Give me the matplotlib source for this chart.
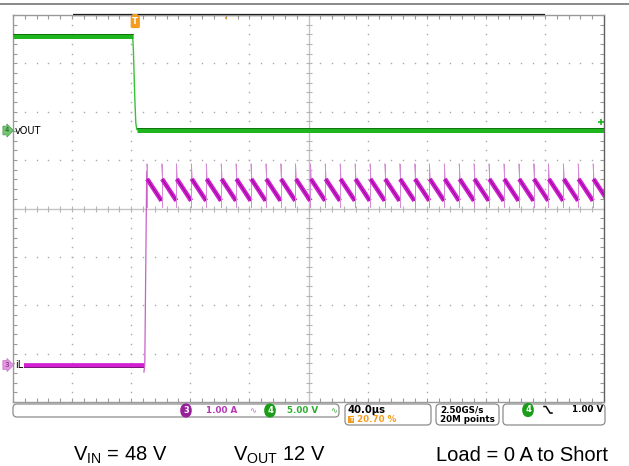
import numpy as np
import matplotlib
matplotlib.use("Agg")
import matplotlib.pyplot as plt
from matplotlib.patches import FancyBboxPatch
from matplotlib.lines import Line2D
from matplotlib import transforms

# channel settings (scope)
time_per_div = 40.0      # us/div
ch4_scale = 5.0          # V/div  (vOUT)
ch4_pos = 1.61           # div above centre
ch3_scale = 1.0          # A/div  (iL)
ch3_pos = -3.23          # div above centre
trig_pct = 20.70

# vOUT trace (us, V)
vout_t = [0.0, 81.0, 81.5, 82.4, 83.1, 83.8, 400.0]
vout_v = [9.76, 9.76, 8.2, 3.5, 0.8, 0.1, 0.1]

# iL before the short (us, A)
il_flat_t = [6.5, 88.6]
il_flat_i = [0.0, 0.0]
il_rise_t = [88.6, 89.2, 90.5]
il_rise_i = [-0.15, 0.0, 4.0]

# hiccup / current-limit sawtooth after the short
tooth_start = [90.5, 100.6, 110.6, 120.7, 130.8, 140.9, 150.9, 161.0, 171.1, 181.1,
               191.2, 201.3, 211.3, 221.4, 231.5, 241.6, 251.6, 261.7, 271.8, 281.8,
               291.9, 302.0, 312.0, 322.1, 332.2, 342.3, 352.3, 362.4, 372.5, 382.5,
               392.6]
tooth_top = 3.84
tooth_bottom = 3.39
spike_hi = 4.15
spike_lo = 3.26
tooth_period = 10.07

W, H = 629, 466
fig = plt.figure(figsize=(W / 100, H / 100), dpi=100)
rect = [13 / W, (H - 402) / H, 591 / W, 387 / H]

# graticule
gax = fig.add_axes(rect)
gax.set_xlim(0, 10)
gax.set_ylim(-4, 4)
gax.set_facecolor("white")
minor_x = np.arange(0, 10.001, 0.2)
minor_y = np.arange(-4, 4.001, 0.2)
gax.set_xticks(minor_x)
gax.set_yticks(minor_y)
gax.tick_params(direction="in", length=3, width=0.8, color="#9a9a9a",
                top=True, right=True, labelbottom=False, labelleft=False)
for s in gax.spines.values():
    s.set_color("#9a9a9a")
    s.set_linewidth(1.0)
gax.spines["right"].set_color("#606060")

dot_x, dot_y = [], []
for gx in range(1, 10):
    if gx == 5:
        continue
    dot_x += [gx] * len(minor_y)
    dot_y += list(minor_y)
for gy in range(-3, 4):
    if gy == 0:
        continue
    dot_x += list(minor_x)
    dot_y += [gy] * len(minor_x)
gax.plot(dot_x, dot_y, ls="none", marker="s", ms=1.0, mew=0, color="#a8a8a8")

gax.axhline(0, color="#c4c4c4", lw=1.0)
gax.axvline(5, color="#c4c4c4", lw=1.0)
gax.plot(minor_x, np.zeros_like(minor_x), ls="none", marker="|", ms=4, mew=0.8, color="#b4b4b4")
gax.plot(np.full_like(minor_y, 5), minor_y, ls="none", marker="_", ms=4, mew=0.8, color="#b4b4b4")

# black record bar on top edge
gax.plot([1.02, 9.0], [4, 4], color="black", lw=1.6, clip_on=False, solid_capstyle="butt")
gax.plot([3.6], [3.93], marker="s", ms=1.5, color="#f0a030", mew=0)

# traces
vax = fig.add_axes(rect)
vax.patch.set_alpha(0)
vax.axis("off")
vax.set_xlim(0, 10 * time_per_div)
vax.set_ylim((-4 - ch4_pos) * ch4_scale, (4 - ch4_pos) * ch4_scale)

up = transforms.offset_copy(vax.transData, fig=fig, y=2, units="dots")
vax.plot(vout_t, vout_v, color="#38c238", lw=1.0)
vax.plot(vout_t[:2], vout_v[:2], color="#1fb51f", lw=3.6, solid_capstyle="butt")
vax.plot(vout_t[-2:], vout_v[-2:], color="#1fb51f", lw=3.6, solid_capstyle="butt")
vax.plot(vout_t[:2], vout_v[:2], color="#0d6a0d", lw=0.6, transform=up)
vax.plot(vout_t[-2:], vout_v[-2:], color="#0d6a0d", lw=0.6, transform=up)
vax.plot([398.0], [0.9], marker="+", ms=4, mew=1.2, color="#1fb51f")

iax = vax.twinx()
iax.patch.set_alpha(0)
iax.axis("off")
iax.set_xlim(0, 10 * time_per_div)
iax.set_ylim((-4 - ch3_pos) * ch3_scale, (4 - ch3_pos) * ch3_scale)

down = transforms.offset_copy(iax.transData, fig=fig, y=-2, units="dots")
iax.plot(il_flat_t, il_flat_i, color="#d21fd2", lw=3.4, solid_capstyle="butt")
iax.plot(il_flat_t, il_flat_i, color="#6a106a", lw=0.6, transform=down)
iax.plot(il_rise_t, il_rise_i, color="#c860c8", lw=0.9)

for t0 in tooth_start:
    iax.plot([t0, t0], [spike_lo, spike_hi], color="#d48ad4", lw=0.7)
    iax.plot([t0, t0 + 0.6], [spike_hi, tooth_top], color="#d48ad4", lw=0.7)
    seg_t = [t0 + 0.3, t0 + tooth_period - 0.1]
    seg_i = [tooth_top, tooth_bottom]
    iax.plot(seg_t, seg_i, color="#d41cd4", lw=3.3, solid_capstyle="butt")
    iax.plot(seg_t, seg_i, color="#6e0e6e", lw=0.5)

# overlay in pixel coordinates for labels / status bar / caption
dax = fig.add_axes([0, 0, 1, 1])
dax.set_xlim(0, W)
dax.set_ylim(H, 0)
dax.axis("off")
dax.set_zorder(10)

# trigger marker
dax.plot([135.3], [16.5], marker="v", ms=4, color="#f39c1e", mew=0)
dax.text(135.3, 22, "T", color="white", fontsize=6, fontweight="bold",
         ha="center", va="center",
         bbox=dict(boxstyle="round,pad=0.2", fc="#f39c1e", ec="none"))

# channel labels on the left
dax.text(6.5, 130.5, "4", fontsize=5, color="#1a5a1a", ha="center", va="center",
         bbox=dict(boxstyle="rarrow,pad=0.2", fc="#74c474", ec="#4a9a4a", lw=0.5))
dax.text(15, 131, "vOUT", fontsize=7, color="black", ha="left", va="center")
dax.text(6.5, 365, "3", fontsize=5, color="#6a206a", ha="center", va="center",
         bbox=dict(boxstyle="rarrow,pad=0.2", fc="#e496e4", ec="#c070c0", lw=0.5))
dax.text(15, 365.5, "iL", fontsize=7, color="black", ha="left", va="center",
         bbox=dict(boxstyle="square,pad=0.05", fc="white", ec="none"))

# top frame line of the screen
fig.add_artist(Line2D([0, 1], [1 - 4 / H, 1 - 4 / H], color="#8a8a8a", lw=1.4))

# status bar
boxes = [(13, 404, 326, 13), (345, 404, 86, 21), (436, 404, 63, 21), (503, 404, 102, 21)]
for bx, by, bw, bh in boxes:
    dax.add_patch(FancyBboxPatch((bx, by), bw, bh, boxstyle="round,pad=0,rounding_size=4",
                                 fc="white", ec="#8c8c8c", lw=0.9))

sfont = dict(fontsize=6.3, fontweight="bold", family="DejaVu Sans", va="center")
badge = dict(fontsize=6, fontweight="bold", family="DejaVu Sans", va="center",
             ha="center", color="white")
badge_box = "round,pad=0.35,rounding_size=0.9"
dax.text(186, 410.5, "3", bbox=dict(boxstyle=badge_box, fc="#98209a", ec="none"), **badge)
dax.text(206, 410.5, "1.00 A", color="#b838b8", ha="left", **sfont)
dax.text(253, 410.5, "\u223f", color="#c070c0", ha="center", fontsize=6, va="center")
dax.text(270, 410.5, "4", bbox=dict(boxstyle=badge_box, fc="#1a9e1a", ec="none"), **badge)
dax.text(287, 410.5, "5.00 V", color="#2cae2c", ha="left", **sfont)
dax.text(334, 410.5, "\u223f", color="#40b040", ha="center", fontsize=6, va="center")

dax.text(348, 410, "40.0\u00b5s", color="black", ha="left",
         fontsize=7.2, fontweight="bold", family="DejaVu Sans", va="center")
dax.text(351, 419.5, "T", color="white", ha="center", fontsize=4.5, fontweight="bold",
         va="center", bbox=dict(boxstyle="square,pad=0.15", fc="#f39c1e", ec="none"))
dax.text(357, 419.5, "20.70 %", color="#f39c1e", ha="left", **sfont)

dax.text(440, 410, "2.50GS/s", color="black", ha="left", **sfont)
dax.text(440, 420, "20M points", color="black", ha="left", **sfont)

dax.text(528, 410, "4", bbox=dict(boxstyle=badge_box, fc="#1a9e1a", ec="none"), **badge)
dax.plot([544, 546, 550, 552], [406.5, 406.5, 413, 413], color="black", lw=1.1)
dax.text(603, 410, "1.00 V", color="black", ha="right", **sfont)

# caption
cap = dict(fontsize=14.5, family="Liberation Sans", va="baseline", ha="left", color="black")
dax.text(73, 461, r"$\mathregular{V_{IN}}$ = 48 V", **cap)
dax.text(233, 461, r"$\mathregular{V_{OUT}}$ 12 V", **cap)
dax.text(436, 461, "Load = 0 A to Short", **cap)

fig.savefig("out.png", dpi=100)
